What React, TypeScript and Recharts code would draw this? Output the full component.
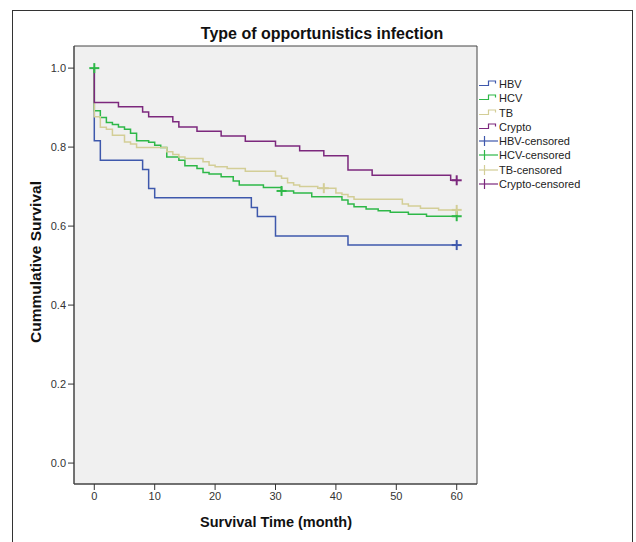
import React from 'react';
import { ComposedChart, Line, Scatter, XAxis, YAxis, CartesianGrid, ReferenceArea } from 'recharts';

// ---- data ----
const hbvTime = [0, 0, 1, 8, 9, 10, 26, 27, 30, 42, 60];
const hbvSurv = [1.0, 0.816, 0.767, 0.743, 0.695, 0.672, 0.647, 0.624, 0.575, 0.552, 0.552];
const hbvCensTime = [60];
const hbvCensSurv = [0.552];

const hcvTime = [0, 0, 1, 2, 3, 4, 5, 6, 7, 9, 10, 11, 12, 14, 15, 17, 18, 19, 21, 23, 24, 28, 31, 33, 36, 41, 42, 43, 45, 47, 49, 52, 55, 60];
const hcvSurv = [1.0, 0.892, 0.875, 0.862, 0.857, 0.851, 0.845, 0.835, 0.816, 0.812, 0.805, 0.799, 0.775, 0.767, 0.753, 0.746, 0.736, 0.732, 0.725, 0.714, 0.704, 0.698, 0.689, 0.684, 0.674, 0.666, 0.656, 0.649, 0.643, 0.639, 0.635, 0.630, 0.625, 0.625];
const hcvCensTime = [0, 31, 60];
const hcvCensSurv = [1.0, 0.689, 0.625];

const tbTime = [0, 0, 1, 2, 3, 5, 6, 7, 12, 13, 14, 15, 18, 19, 20, 22, 25, 30, 31, 32, 33, 34, 37, 40, 41, 42, 43, 51, 52, 54, 57, 60];
const tbSurv = [1.0, 0.877, 0.850, 0.845, 0.830, 0.813, 0.808, 0.799, 0.788, 0.781, 0.775, 0.771, 0.763, 0.754, 0.750, 0.746, 0.739, 0.727, 0.721, 0.710, 0.704, 0.700, 0.696, 0.684, 0.680, 0.674, 0.668, 0.656, 0.651, 0.645, 0.641, 0.641];
const tbCensTime = [38, 60];
const tbCensSurv = [0.696, 0.641];

const cryptoTime = [0, 0, 4, 8, 9, 13, 14, 17, 21, 25, 30, 34, 38, 42, 46, 59, 60];
const cryptoSurv = [1.0, 0.913, 0.902, 0.889, 0.877, 0.864, 0.851, 0.840, 0.828, 0.815, 0.803, 0.791, 0.778, 0.742, 0.729, 0.716, 0.716];
const cryptoCensTime = [60];
const cryptoCensSurv = [0.716];

const xTicks = [0, 10, 20, 30, 40, 50, 60];
const yTicks = [0, 0.2, 0.4, 0.6, 0.8, 1.0];
const xDomain = [-3.36, 63.36];
const yDomain = [-0.053, 1.056];

const legendNames = ['HBV', 'HCV', 'TB', 'Crypto', 'HBV-censored', 'HCV-censored', 'TB-censored', 'Crypto-censored'];
const colors = ['#3E58AC', '#2EB848', '#D3CE97', '#7C287D'];

const zip = (t: number[], s: number[]) => t.map((v, i) => ({ t: v, s: s[i] }));

const series = [
  { name: 'HBV', data: zip(hbvTime, hbvSurv), cens: zip(hbvCensTime, hbvCensSurv), color: colors[0] },
  { name: 'HCV', data: zip(hcvTime, hcvSurv), cens: zip(hcvCensTime, hcvCensSurv), color: colors[1] },
  { name: 'TB', data: zip(tbTime, tbSurv), cens: zip(tbCensTime, tbCensSurv), color: colors[2] },
  { name: 'Crypto', data: zip(cryptoTime, cryptoSurv), cens: zip(cryptoCensTime, cryptoCensSurv), color: colors[3] },
];

const FONT = '"Liberation Sans", Arial, sans-serif';

const makeCross = (color: string) => (props: any) => {
  const { cx, cy } = props;
  if (cx == null || cy == null) return <g />;
  return (
    <g>
      <line x1={cx - 5} y1={cy} x2={cx + 5} y2={cy} stroke={color} strokeWidth={2} />
      <line x1={cx} y1={cy - 5} x2={cx} y2={cy + 5} stroke={color} strokeWidth={2} />
    </g>
  );
};

const LegendIcon = ({ kind, color }: { kind: 'step' | 'cross'; color: string }) => (
  <svg width={21} height={14} style={{ position: 'absolute', left: 0, top: 0 }}>
    {kind === 'step' ? (
      <path d="M1,8.5 H10.5 V4 H17.5 V6.5" fill="none" stroke={color} strokeWidth={1.2} />
    ) : (
      <g>
        <line x1={1} y1={7} x2={20} y2={7} stroke={color} strokeWidth={1.2} />
        <line x1={6.5} y1={2} x2={6.5} y2={12} stroke={color} strokeWidth={1.2} />
      </g>
    )}
  </svg>
);

export default function App() {
  return (
    <div style={{ position: 'absolute', left: 0, top: 0, width: 636, height: 542, overflow: 'hidden', background: '#fff', fontFamily: FONT }}>
      <div style={{ position: 'absolute', left: 12, top: 10, width: 621, height: 600, border: '1px solid #333', boxSizing: 'border-box' }} />
      <div style={{ position: 'absolute', left: 0, top: 0 }}>
        <ComposedChart width={636} height={542} margin={{ top: 46, right: 159, bottom: 28, left: 34 }}>
          <CartesianGrid horizontal={false} vertical={false} fill="#F0F0F0" />
          <XAxis
            type="number"
            dataKey="t"
            domain={xDomain}
            ticks={xTicks}
            allowDataOverflow
            height={30}
            tickSize={6}
            axisLine={{ stroke: '#444' }}
            tickLine={{ stroke: '#333' }}
            tick={{ fill: '#333', fontSize: 11, fontFamily: FONT }}
          />
          <YAxis
            type="number"
            dataKey="s"
            domain={yDomain}
            ticks={yTicks}
            allowDataOverflow
            width={40}
            tickSize={6}
            tickFormatter={(v: number) => v.toFixed(1)}
            axisLine={{ stroke: '#444' }}
            tickLine={{ stroke: '#333' }}
            tick={{ fill: '#333', fontSize: 11, fontFamily: FONT }}
          />
          <ReferenceArea x1={xDomain[0]} x2={xDomain[1]} y1={yDomain[0]} y2={yDomain[1]} fill="none" stroke="#444" strokeWidth={1} ifOverflow="visible" />
          {series.map((s) => (
            <Line
              key={s.name}
              data={s.data}
              dataKey="s"
              type="stepAfter"
              stroke={s.color}
              strokeWidth={1.5}
              dot={false}
              activeDot={false}
              isAnimationActive={false}
            />
          ))}
          {series.map((s) => (
            <Scatter key={s.name + '-c'} data={s.cens} dataKey="s" shape={makeCross(s.color)} isAnimationActive={false} />
          ))}
        </ComposedChart>
      </div>
      <div style={{ position: 'absolute', left: 122, top: 25, width: 400, textAlign: 'center', fontSize: 16, fontWeight: 'bold', lineHeight: '18px', color: '#111' }}>
        Type of opportunistics infection
      </div>
      <div style={{ position: 'absolute', left: 176, top: 513, width: 200, textAlign: 'center', fontSize: 14.5, fontWeight: 'bold', lineHeight: '18px', color: '#111' }}>
        Survival Time (month)
      </div>
      <div style={{ position: 'absolute', left: -64, top: 253, width: 200, height: 18, textAlign: 'center', fontSize: 15.5, fontWeight: 'bold', lineHeight: '18px', color: '#111', transform: 'rotate(-90deg)' }}>
        Cummulative Survival
      </div>
      {legendNames.map((n, i) => (
        <div key={n} style={{ position: 'absolute', left: 478, top: 77 + i * 14.25, height: 14, width: 150 }}>
          <LegendIcon kind={i < 4 ? 'step' : 'cross'} color={colors[i % 4]} />
          <span style={{ position: 'absolute', left: 21, top: 0, fontSize: 11, lineHeight: '14px', color: '#222', whiteSpace: 'nowrap' }}>{n}</span>
        </div>
      ))}
    </div>
  );
}
